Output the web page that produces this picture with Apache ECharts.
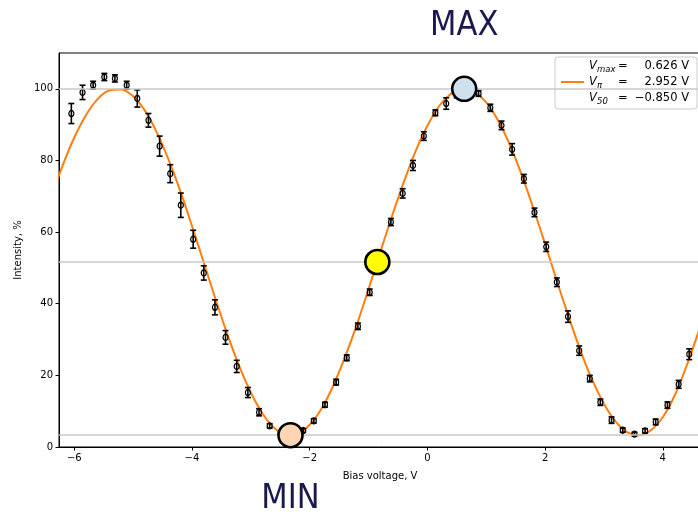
<!DOCTYPE html>
<html><head><meta charset="utf-8">
<script src="https://cdn.jsdelivr.net/npm/echarts@6/dist/echarts.min.js"></script>
<style>html,body{margin:0;padding:0;background:#fff}#c{width:698px;height:512px}</style>
</head><body><div id="c"></div>
<script>
// ---- measured data ----
const voltage = [-6.05,-5.86,-5.68,-5.49,-5.31,-5.11,-4.93,-4.74,-4.55,-4.37,-4.19,-3.98,-3.80,-3.61,-3.43,-3.24,-3.05,-2.86,-2.68,-2.49,-2.30,-2.11,-1.93,-1.74,-1.55,-1.37,-1.18,-0.98,-0.80,-0.62,-0.42,-0.245,-0.06,0.136,0.32,0.50,0.69,0.87,1.07,1.26,1.44,1.64,1.82,2.02,2.20,2.39,2.58,2.76,2.94,3.13,3.32,3.52,3.70,3.88,4.08,4.27,4.45];
const intensity = [93.1,99.0,101.0,103.3,102.9,101.0,97.3,91.2,84.0,76.3,67.5,58.0,48.6,39.0,30.6,22.5,15.2,9.7,5.9,3.8,3.0,4.6,7.3,11.8,18.1,24.9,33.7,43.2,52.5,62.8,70.8,78.6,86.8,93.3,95.9,98.5,100.0,98.7,94.7,89.8,83.1,74.9,65.5,55.9,46.0,36.4,26.9,19.1,12.5,7.5,4.7,3.6,4.5,7.0,11.7,17.5,25.9];
const errorBar = [2.8,2.0,1.1,1.0,1.0,1.1,2.4,1.9,2.8,2.5,3.4,2.5,2.0,2.1,1.9,1.7,1.4,1.0,0.6,0.5,0.5,0.5,0.6,0.7,0.8,0.8,0.9,0.9,1.0,1.0,1.3,1.4,1.2,0.8,1.6,1.0,1.0,0.8,1.0,1.2,1.6,1.2,1.2,1.3,1.2,1.6,1.3,0.9,0.9,0.9,0.6,0.5,0.6,0.8,0.9,1.1,1.5];
// ---- fitted curve ----
const fitVoltage = [-6.4,-6.2,-6.0,-5.8,-5.6,-5.4,-5.2,-5.0,-4.8,-4.6,-4.4,-4.2,-4.0,-3.8,-3.6,-3.4,-3.2,-3.0,-2.8,-2.6,-2.4,-2.2,-2.0,-1.8,-1.6,-1.4,-1.2,-1.0,-0.8,-0.6,-0.4,-0.2,0.0,0.2,0.4,0.6,0.8,1.0,1.2,1.4,1.6,1.8,2.0,2.2,2.4,2.6,2.8,3.0,3.2,3.4,3.6,3.8,4.0,4.2,4.4,4.6,4.8];
const fitIntensity = [69.4,78.5,86.4,92.7,97.2,99.6,99.8,97.9,93.9,87.9,80.3,71.5,61.7,51.5,41.3,31.5,22.7,15.2,9.3,5.3,3.4,3.7,6.2,10.7,17.1,25.1,34.1,44.1,54.4,64.5,74.0,82.6,89.7,95.2,98.6,100.0,99.1,96.2,91.2,84.4,76.1,66.7,56.7,46.4,36.4,27.0,18.8,12.1,7.1,4.1,3.3,4.7,8.3,14.3,22.4,31.8,41.5];
// ---- reference levels & special points ----
const refLevels = [100, 51.65, 3.3];
const markerNames = ['MAX', 'V50', 'MIN'];
const markerVoltage = [0.626, -0.85, -2.326];
const markerIntensity = [100, 51.65, 3.3];
const markerColors = ['#d0e1ee', '#ffff00', '#fcd5b4'];
const xTicks = [-6, -4, -2, 0, 2, 4];
const yTicks = [0, 20, 40, 60, 80, 100];
const legendSubs = ['max', 'π', '50'];
const legendValues = ['0.626 V', '2.952 V', '\u22120.850 V'];

const F = 'DejaVu Sans';
const fmt = v => v < 0 ? '\u2212' + Math.abs(v) : String(v);
const chart = echarts.init(document.getElementById('c'));

const pts = voltage.map((v, i) => [v, intensity[i], errorBar[i]]);

const option = {
  animation: false,
  textStyle: { fontFamily: F },
  grid: { left: 59, top: 53, width: 642, height: 394, outerBoundsMode: 'none', containLabel: false, show: true, borderColor: '#000', borderWidth: 1, backgroundColor: 'transparent' },
  legend: {
    data: [{ name: 'fit', icon: 'rect' }],
    right: 1, top: 57, orient: 'vertical',
    itemWidth: 23, itemHeight: 2,
    padding: [3, 8, 3, 6],
    backgroundColor: '#fff', borderColor: '#cccccc', borderWidth: 1, borderRadius: 3,
    formatter: () => legendSubs.map((s, i) => '{v|V}{s|' + s + '}{e|=}{n|' + legendValues[i] + '}').join('\n'),
    textStyle: {
      color: '#000', fontFamily: F, fontSize: 11.5,
      rich: {
        v: { fontStyle: 'italic', fontSize: 11.5, width: 8, lineHeight: 16, fontFamily: F, color: '#000' },
        s: { fontStyle: 'italic', fontSize: 8.5, width: 21, lineHeight: 10, verticalAlign: 'bottom', fontFamily: F, color: '#000' },
        e: { fontSize: 11.5, width: 10, lineHeight: 16, fontFamily: F, color: '#000' },
        n: { fontSize: 11.5, width: 61, align: 'right', lineHeight: 16, fontFamily: F, color: '#000' }
      }
    }
  },
  xAxis: {
    type: 'value', min: -6.26, max: 4.65,
    name: 'Bias voltage, V', nameLocation: 'middle', nameGap: 24,
    nameTextStyle: { fontSize: 10, color: '#000', fontFamily: F },
    axisLine: { onZero: false, lineStyle: { color: '#000', width: 1 } },
    axisTick: { show: true, length: 3.5, customValues: xTicks, lineStyle: { color: '#000' } },
    axisLabel: { customValues: xTicks, formatter: fmt, fontSize: 10, color: '#000', margin: 6, fontFamily: F },
    splitLine: { show: false }
  },
  yAxis: {
    type: 'value', min: 0, max: 110,
    name: 'Intensity, %', nameLocation: 'middle', nameGap: 36, nameRotate: 90,
    nameTextStyle: { fontSize: 10, color: '#000', fontFamily: F },
    axisLine: { show: true, onZero: false, lineStyle: { color: '#000', width: 1 } },
    axisTick: { show: true, length: 3.5, customValues: yTicks, lineStyle: { color: '#000' } },
    axisLabel: { customValues: yTicks, fontSize: 10, color: '#000', margin: 6, fontFamily: F },
    splitLine: { show: false }
  },
  series: [
    {
      type: 'line', name: 'levels', data: [], z: 1, silent: true,
      markLine: {
        silent: true, symbol: ['none', 'none'], label: { show: false },
        lineStyle: { color: '#c8c8c8', width: 1.5, type: 'solid' },
        data: refLevels.map(v => ({ yAxis: v }))
      }
    },
    {
      type: 'line', name: 'fit', z: 2, showSymbol: false, smooth: 0.3,
      color: '#ff7f0e',
      itemStyle: { color: '#ff7f0e' },
      lineStyle: { color: '#ff7f0e', width: 2 },
      data: fitVoltage.map((v, i) => [v, fitIntensity[i]])
    },
    {
      type: 'custom', name: 'err', z: 3, silent: true,
      data: pts,
      renderItem: (params, api) => {
        const x = api.value(0), y = api.value(1), e = api.value(2);
        const top = api.coord([x, y + e]);
        const bot = api.coord([x, y - e]);
        const cw = 3;
        const st = { stroke: '#000', lineWidth: 1.6 };
        return {
          type: 'group',
          children: [
            { type: 'line', shape: { x1: top[0], y1: top[1], x2: bot[0], y2: bot[1] }, style: st },
            { type: 'line', shape: { x1: top[0] - cw, y1: top[1], x2: top[0] + cw, y2: top[1] }, style: st },
            { type: 'line', shape: { x1: bot[0] - cw, y1: bot[1], x2: bot[0] + cw, y2: bot[1] }, style: st }
          ]
        };
      }
    },
    {
      type: 'scatter', name: 'data', z: 4, silent: true,
      symbol: 'circle', symbolSize: [5, 6],
      itemStyle: { color: 'rgba(0,0,0,0)', borderColor: '#000', borderWidth: 1.3, opacity: 1 },
      data: pts.map(p => [p[0], p[1]])
    },
    {
      type: 'scatter', name: 'markers', z: 5, silent: true,
      symbol: 'circle', symbolSize: 24,
      data: markerNames.map((n, i) => ({
        value: [markerVoltage[i], markerIntensity[i]],
        itemStyle: { color: markerColors[i], borderColor: '#000', borderWidth: 2.6, opacity: 1 },
        label: {
          show: n !== 'V50', formatter: n, position: 'inside',
          offset: [0, n === 'MAX' ? -63 : 64],
          fontSize: 34, color: '#191950', opacity: 1,
          fontFamily: "'DejaVu Sans Condensed', 'DejaVu Sans'"
        }
      }))
    }
  ]
};
chart.setOption(option);
</script>
</body></html>
